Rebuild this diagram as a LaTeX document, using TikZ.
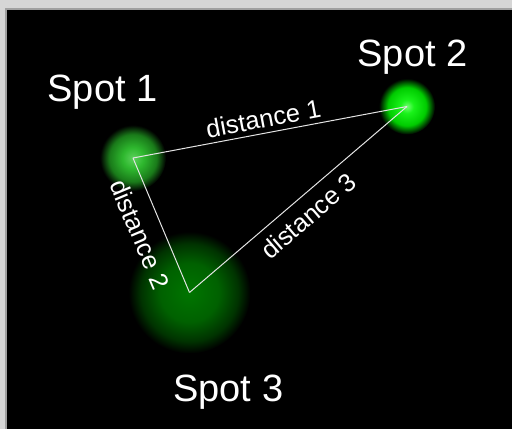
\documentclass[tikz,border=0pt]{standalone}
\usepackage{fontspec}
\setmainfont{Liberation Sans}
\usetikzlibrary{positioning}
\definecolor{framelight}{RGB}{214,214,214}
\definecolor{framedark}{RGB}{160,160,160}
\definecolor{linkgrey}{RGB}{228,228,228}
\pgfdeclareradialshading{glowone}{\pgfpoint{0bp}{0bp}}{%
  rgb(0bp)=(.36,.82,.36); rgb(8bp)=(.18,.72,.18); rgb(18bp)=(.1,.48,.1);
  rgb(25bp)=(0,0,0); rgb(50bp)=(0,0,0)}
\pgfdeclareradialshading{glowtwo}{\pgfpoint{0bp}{0bp}}{%
  rgb(0bp)=(.45,1,.45); rgb(6bp)=(.1,.95,.1); rgb(17bp)=(0,.8,0);
  rgb(25bp)=(0,0,0); rgb(50bp)=(0,0,0)}
\pgfdeclareradialshading{glowthree}{\pgfpoint{0bp}{0bp}}{%
  rgb(0bp)=(0,.46,0); rgb(12bp)=(0,.38,0); rgb(20bp)=(0,.2,0);
  rgb(25bp)=(0,0,0); rgb(50bp)=(0,0,0)}
\tikzset{
  spotlabel/.style={text=white, font=\fontsize{38}{40}\selectfont, anchor=base},
  distlabel/.style={text=white, font=\fontsize{25.5}{27}\selectfont, sloped, inner sep=0pt},
  link/.style={draw=linkgrey, line width=1pt}
}

\begin{document}
\begin{tikzpicture}[x=1pt, y=1pt]
    \useasboundingbox (0,0) rectangle (512,429);
    % frame and black field
    \fill[framelight] (0,0) rectangle (512,429);
    \fill[framedark] (4.5,0) rectangle (512,420.7);
    \fill[black] (7,0) rectangle (512,418.7);

    \coordinate (spot1) at (133,271);
    \coordinate (spot2) at (407,322.5);
    \coordinate (spot3) at (189.5,136.5);

    \shade[shading=glowone] (spot1) circle (33);
    \shade[shading=glowtwo] (spot2) circle (28);
    \shade[shading=glowthree] (spot3) circle (61);

    \draw[link] (spot1) -- node[distlabel, above=5pt, pos=0.486] (dist1) {distance 1} (spot2);
    \draw[link] (spot1) -- node[distlabel, below=13pt, pos=0.5] (dist2) {distance 2} (spot3);
    \draw[link] (spot3) -- node[distlabel, below=9pt, pos=0.49] (dist3) {distance 3} (spot2);

    \node[spotlabel] (label1) at (102.5,327) {Spot 1};
    \node[spotlabel] (label2) at (412.5,362.3) {Spot 2};
    \node[spotlabel] (label3) at (228.3,27.3) {Spot 3};
  \end{tikzpicture}
\end{document}
